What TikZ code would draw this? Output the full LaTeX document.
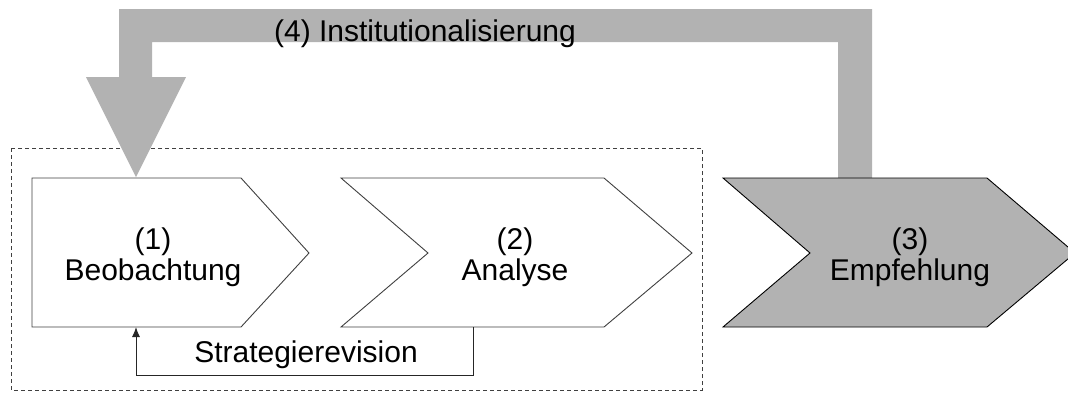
\documentclass[tikz,border=0pt]{standalone}
\usepackage{fontspec}
\setmainfont{Liberation Sans}
\usetikzlibrary{positioning}
\usetikzlibrary{arrows.meta}

\begin{document}
\begin{tikzpicture}[
        x = 1pt, y = -1pt,
        phase/.style = {
            draw = black!75,
            line width = 0.9pt,
            fill = #1
        },
        phase/.default = white,
        phase text/.style = {
            font = \fontsize{30}{31}\selectfont,
            align = center,
            inner sep = 0pt
        },
        feedback/.style = {
            draw = black!85,
            line width = 1pt,
            -{Latex[length=10pt, width=8pt]}
        }
    ]
    \useasboundingbox (0,0) rectangle (1068,392);

    % dashed frame round (1) and (2)
    \draw[black!75, line width = 1pt, dash pattern = on 4pt off 3pt] (11,148) rectangle (702,390);

    % wide gray arrow (4)
    \fill[black!30] (872,178) -- (872,9) -- (119,9) -- (119,77) -- (86,77) -- (136,177)
        -- (186,77) -- (152,77) -- (152,42) -- (838,42) -- (838,178) -- cycle;

    % chevrons
    \coordinate (beo in) at (136,327);
    \coordinate (ana out) at (473,327);
    \draw[phase] (32,178) -- (241,178) -- (309,253) -- (241,327) -- (32,327) -- cycle;
    \draw[phase] (341,178) -- (604,178) -- (692,253) -- (604,327) -- (341,327) -- (428,253) -- cycle;
    \draw[phase=black!30, draw=black] (723,178) -- (987,178) -- (1075,253) -- (987,327) -- (723,327) -- (810,253) -- cycle;

    \node[phase text] (beo) at (153,257) {(1)\\Beobachtung};
    \node[phase text] (ana) at (515,257) {(2)\\Analyse};
    \node[phase text] (emp) at (910,257) {(3)\\Empfehlung};
    \node[phase text, anchor=base] (inst) at (425,41) {(4) Institutionalisierung};
    \node[phase text, anchor=base] (rev) at (306,362) {Strategierevision};

    \draw[feedback] (ana out) -- ++(0,48) -| (beo in);

\end{tikzpicture}
\end{document}
